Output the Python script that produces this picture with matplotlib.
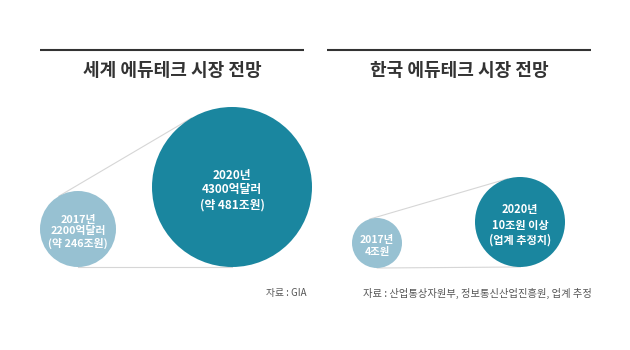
import numpy as np
import matplotlib
matplotlib.use("Agg")
import matplotlib.pyplot as plt
from matplotlib.patches import Circle

plt.rcParams['font.family'] = ['Noto Sans CJK KR', 'DejaVu Sans']

# global edutech market (억달러, 조원)
world_years = [2017, 2020]
world_usd = [2200, 4300]
world_krw = [246, 481]

# korean edutech market (조원)
korea_years = [2017, 2020]
korea_krw = [4, 10]

titles = ['세계 에듀테크 시장 전망', '한국 에듀테크 시장 전망']
sources = ['자료 : GIA', '자료 : 산업통상자원부, 정보통신산업진흥원, 업계 추정']

world_labels = [f'{y}년\n{u}억달러\n(약 {k}조원)' for y, u, k in zip(world_years, world_usd, world_krw)]
korea_labels = [f'{korea_years[0]}년\n{korea_krw[0]}조원',
                f'{korea_years[1]}년\n{korea_krw[1]}조원 이상\n(업계 추정치)']

# layout in pixels (y down)
panels = [
    dict(rule=(40, 304), title_x=172, centers=[(78, 229), (232, 187)], radii=[38, 80],
         labels=world_labels, sizes=[7.8, 8.5], src_x=307, src_ha='right', src_fs=7),
    dict(rule=(327, 591), title_x=459, centers=[(377, 243), (520, 222)], radii=[25, 45],
         labels=korea_labels, sizes=[7.5, 8], src_x=363, src_ha='left', src_fs=7.4),
]
light = '#97c1d2'
dark = '#1a869f'


def tangent_points(c1, r1, c2, r2):
    # both outer tangent lines between two circles
    c1, c2 = np.array(c1, float), np.array(c2, float)
    d = c2 - c1
    D = np.hypot(*d)
    th = np.arctan2(d[1], d[0])
    a = np.arccos((r2 - r1) / D)
    out = []
    for s in (1, -1):
        n = np.array([np.cos(th + s * a), np.sin(th + s * a)])
        out.append((c1 - r1 * n, c2 - r2 * n))
    return out


fig = plt.figure(figsize=(6.3, 3.5), dpi=100)
ax = fig.add_axes([0, 0, 1, 1])
ax.set_xlim(0, 630)
ax.set_ylim(350, 0)
ax.axis('off')

for i, p in enumerate(panels):
    ax.plot(p['rule'], [50, 50], color='#333333', lw=1.5, solid_capstyle='butt')
    ax.text(p['title_x'], 70, titles[i], ha='center', va='center',
            fontsize=13, fontweight='bold', color='#333333')

    (c1, c2), (r1, r2) = p['centers'], p['radii']
    for p1, p2 in tangent_points(c1, r1, c2, r2):
        ax.plot([p1[0], p2[0]], [p1[1], p2[1]], color='#d6d6d6', lw=0.8, zorder=1)

    for c, r, col, lab, fs in zip(p['centers'], p['radii'], [light, dark], p['labels'], p['sizes']):
        ax.add_patch(Circle(c, r, facecolor=col, edgecolor='none', zorder=2))
        ax.text(c[0], c[1] + 3, lab, ha='center', va='center', color='white',
                fontsize=fs, fontweight='bold', linespacing=1.2, zorder=3)

    ax.text(p['src_x'], 293, sources[i], ha=p['src_ha'], va='center',
            fontsize=p['src_fs'], color='#555555')

fig.savefig('out.png', dpi=100, facecolor='white')
